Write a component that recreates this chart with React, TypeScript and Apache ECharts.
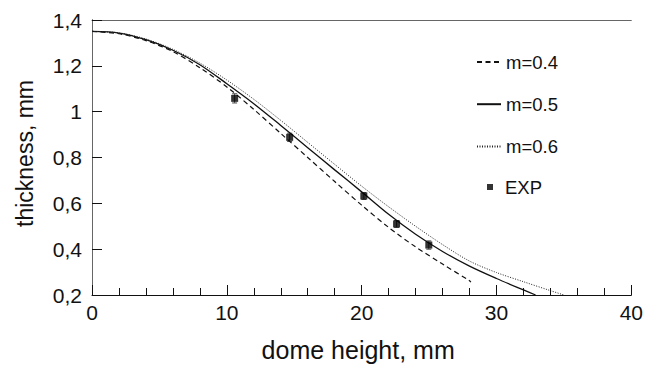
import React, { useEffect, useRef } from 'react';
import * as echarts from 'echarts';

const xMin = 0;
const xMax = 40;
const yMin = 0.2;
const yMax = 1.4;

const dashX = [0, 2, 4, 6, 8, 10, 12, 14, 16, 18, 20, 22, 24, 26, 28, 28.1];
const dashY = [1.35, 1.34, 1.31, 1.262, 1.192, 1.108, 1.01, 0.905, 0.8, 0.695, 0.592, 0.495, 0.41, 0.335, 0.262, 0.256];

const solidX = [0, 2, 4, 6, 8, 10, 12, 14, 16, 18, 20, 22, 24, 26, 28, 30, 32, 32.9];
const solidY = [1.35, 1.343, 1.314, 1.268, 1.205, 1.122, 1.035, 0.94, 0.843, 0.746, 0.65, 0.552, 0.465, 0.39, 0.326, 0.272, 0.222, 0.2];

const dotX = [0, 2, 4, 6, 8, 10, 12, 14, 16, 18, 20, 22, 24, 26, 28, 30, 32, 34, 35];
const dotY = [1.35, 1.344, 1.317, 1.272, 1.212, 1.138, 1.054, 0.962, 0.866, 0.77, 0.675, 0.585, 0.5, 0.42, 0.348, 0.298, 0.258, 0.219, 0.2];

const expX = [10.58, 14.66, 20.16, 22.59, 24.98];
const expY = [1.058, 0.888, 0.632, 0.51, 0.418];
const expErr = [0.02, 0.018, 0.015, 0.015, 0.018];

const seriesNames = ['m=0.4', 'm=0.5', 'm=0.6', 'EXP'];

const FONT = '"Liberation Sans", Arial, Helvetica, sans-serif';
const INK = '#111';

function pairs(xs: number[], ys: number[]) {
  return xs.map((x, i) => [x, ys[i]]);
}

function fmtY(v: number) {
  return String(+v.toFixed(1)).replace('.', ',');
}

export default function App() {
  const ref = useRef<HTMLDivElement>(null);

  useEffect(() => {
    document.body.style.margin = '0';
    if (!ref.current) return;
    const chart = echarts.init(ref.current, null, { renderer: 'svg' });

    const option: any = {
      animation: false,
      backgroundColor: '#fff',
      textStyle: { fontFamily: FONT },
      grid: { left: 92, right: 14, top: 20, bottom: 64, containLabel: false },
      legend: [
        {
          data: seriesNames.slice(0, 3),
          orient: 'vertical',
          left: 476,
          top: 52.5,
          padding: 0,
          itemWidth: 24,
          itemHeight: 18.5,
          itemGap: 23.2,
          selectedMode: false,
          itemStyle: { color: 'rgba(0,0,0,0)', opacity: 0, borderWidth: 0 },
          textStyle: { fontFamily: FONT, fontSize: 18.5, color: INK },
        },
        {
          data: [{ name: 'EXP', icon: 'rect' }],
          orient: 'vertical',
          left: 487,
          top: 177.5,
          padding: 0,
          itemWidth: 6,
          itemHeight: 6,
          selectedMode: false,
          textStyle: { fontFamily: FONT, fontSize: 18.5, color: INK, padding: [0, 0, 0, 7] },
        },
      ],
      xAxis: [
        {
          type: 'value',
          min: xMin,
          max: xMax,
          interval: 10,
          position: 'bottom',
          name: 'dome height, mm',
          nameLocation: 'middle',
          nameGap: 42,
          nameTextStyle: { fontFamily: FONT, fontSize: 25, color: INK, padding: [0, 7, 0, 0] },
          axisLine: { show: true, lineStyle: { color: INK, width: 1 } },
          axisTick: { show: true, inside: true, length: 10, lineStyle: { color: INK } },
          minorTick: { show: true, splitNumber: 5, length: 7, lineStyle: { color: INK } },
          axisLabel: { fontFamily: FONT, fontSize: 21, color: INK, margin: 7 },
          splitLine: { show: false },
          minorSplitLine: { show: false },
        },
        {
          type: 'value',
          min: xMin,
          max: xMax,
          position: 'top',
          axisLine: { show: true, lineStyle: { color: '#666', width: 1 } },
          axisTick: { show: false },
          axisLabel: { show: false },
          splitLine: { show: false },
        },
      ],
      yAxis: [
        {
          type: 'value',
          min: yMin,
          max: yMax,
          interval: 0.2,
          position: 'left',
          name: 'thickness, mm',
          nameLocation: 'middle',
          nameGap: 56,
          nameTextStyle: { fontFamily: FONT, fontSize: 23, color: INK, padding: [0, 0, 0, 8] },
          axisLine: { show: true, lineStyle: { color: INK, width: 1 } },
          axisTick: { show: true, inside: true, length: 10, lineStyle: { color: INK } },
          axisLabel: { fontFamily: FONT, fontSize: 21, color: INK, margin: 10, formatter: fmtY },
          splitLine: { show: false },
        },
        {
          type: 'value',
          min: yMin,
          max: yMax,
          position: 'right',
          axisLine: { show: true, lineStyle: { color: '#666', width: 1 } },
          axisTick: { show: false },
          axisLabel: { show: false },
          splitLine: { show: false },
        },
      ],
      series: [
        {
          name: seriesNames[0],
          type: 'line',
          data: pairs(dashX, dashY),
          symbol: 'none',
          smooth: 0.3,
          color: INK,
          lineStyle: { color: INK, width: 1.2, type: [5, 3.5] },
        },
        {
          name: seriesNames[1],
          type: 'line',
          data: pairs(solidX, solidY),
          symbol: 'none',
          smooth: 0.3,
          color: INK,
          lineStyle: { color: INK, width: 1.3, type: 'solid' },
        },
        {
          name: seriesNames[2],
          type: 'line',
          data: pairs(dotX, dotY),
          symbol: 'none',
          smooth: 0.3,
          color: INK,
          lineStyle: { color: '#222', width: 1, type: [1, 1.5] },
        },
        {
          name: 'EXP-err',
          type: 'custom',
          data: expX.map((x, i) => [x, expY[i], expErr[i]]),
          silent: true,
          z: 3,
          renderItem: (params: any, api: any) => {
            const x = api.value(0);
            const y = api.value(1);
            const e = api.value(2);
            const top = api.coord([x, y + e]);
            const bot = api.coord([x, y - e]);
            const w = 2.5;
            const st = { stroke: '#444', lineWidth: 1 };
            return {
              type: 'group',
              children: [
                { type: 'line', shape: { x1: top[0], y1: top[1], x2: bot[0], y2: bot[1] }, style: st },
                { type: 'line', shape: { x1: top[0] - w, y1: top[1], x2: top[0] + w, y2: top[1] }, style: st },
                { type: 'line', shape: { x1: bot[0] - w, y1: bot[1], x2: bot[0] + w, y2: bot[1] }, style: st },
              ],
            };
          },
        },
        {
          name: seriesNames[3],
          type: 'scatter',
          data: pairs(expX, expY),
          symbol: 'rect',
          symbolSize: 7,
          z: 4,
          color: '#000',
          itemStyle: { color: '#000' },
        },
      ],
    };

    chart.setOption(option);
    return () => chart.dispose();
  }, []);

  return <div ref={ref} style={{ width: 646, height: 367 }} />;
}
